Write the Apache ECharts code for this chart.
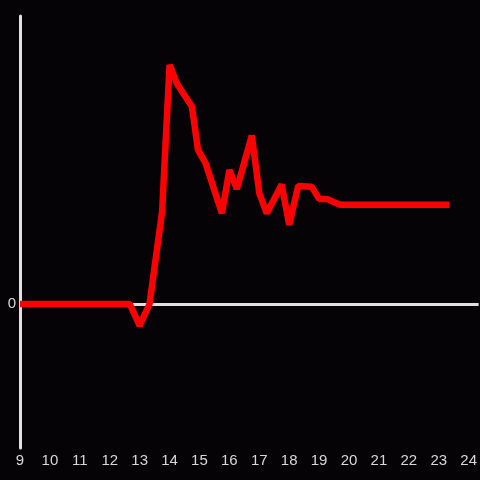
<!DOCTYPE html>
<html>
<head>
<meta charset="utf-8">
<script src="https://cdn.jsdelivr.net/npm/echarts@6/dist/echarts.min.js"></script>
<style>
  html, body { margin: 0; padding: 0; background: #050306; }
  #chart { width: 480px; height: 480px; }
</style>
</head>
<body>
<div id="chart"></div>
<script>
// hour of day
const hours = [9, 12.67, 13.0, 13.33, 13.75, 14.0, 14.25, 14.75, 14.95, 15.2, 15.75, 16.0, 16.25, 16.75, 17.0, 17.25, 17.75, 18.0, 18.3, 18.75, 19.0, 19.25, 19.7, 23.35];
const values = [0, 0, -0.15, 0, 0.64, 1.66, 1.53, 1.37, 1.07, 0.98, 0.63, 0.93, 0.8, 1.17, 0.77, 0.63, 0.83, 0.55, 0.82, 0.815, 0.73, 0.73, 0.69, 0.69];
const xTicks = [9, 10, 11, 12, 13, 14, 15, 16, 17, 18, 19, 20, 21, 22, 23, 24];

const chart = echarts.init(document.getElementById('chart'));

const option = {
  backgroundColor: '#050306',
  animation: false,
  grid: {
    top: 16,
    left: 20,
    right: 0,
    bottom: 32,
  },
  xAxis: {
    type: 'value',
    min: 9,
    max: 24 + 1 / 3,
    interval: 1,
    axisLine: { show: false },
    axisTick: { show: false },
    splitLine: { show: false },
    axisLabel: {
      color: '#d8d8d8',
      fontSize: 15,
      fontFamily: 'Liberation Sans, Arial, sans-serif',
      margin: 5,
      showMaxLabel: false,
      formatter: (v) => (xTicks.includes(v) ? String(v) : ''),
    },
  },
  yAxis: {
    type: 'value',
    min: -1,
    max: 2,
    interval: 1,
    axisLine: { show: true, onZero: false, lineStyle: { color: '#e0e0e0', width: 3 } },
    axisTick: { show: false },
    splitLine: { show: false },
    axisLabel: {
      color: '#d8d8d8',
      fontSize: 15,
      fontFamily: 'Liberation Sans, Arial, sans-serif',
      margin: 4,
      formatter: (v) => (v === 0 ? '0' : ''),
    },
  },
  series: [
    {
      type: 'line',
      data: hours.map((h, i) => [h, values[i]]),
      showSymbol: false,
      lineStyle: { color: '#ff0000', width: 6.5 },
      markLine: {
        silent: true,
        symbol: 'none',
        label: { show: false },
        lineStyle: { color: '#e0e0e0', width: 3, type: 'solid' },
        data: [{ yAxis: 0 }],
        z: 1,
      },
      z: 3,
    },
  ],
};

chart.setOption(option);
</script>
</body>
</html>
